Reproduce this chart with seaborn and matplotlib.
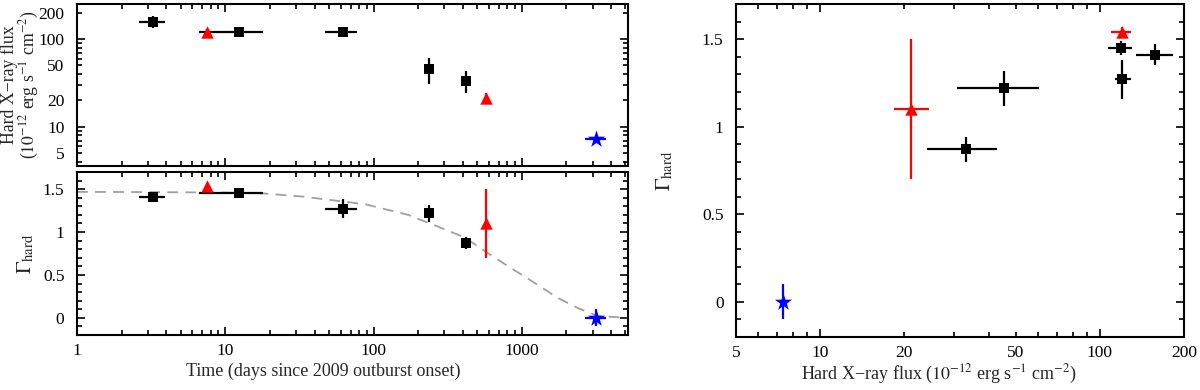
import matplotlib
matplotlib.use("Agg")
import numpy as np
import pandas as pd
import matplotlib.pyplot as plt
import seaborn as sns
from matplotlib.ticker import FixedLocator, FixedFormatter, NullFormatter

sns.set_theme(style="ticks")
plt.rcParams['font.family'] = ['Liberation Serif', 'DejaVu Serif']
plt.rcParams['mathtext.fontset'] = 'stix'
plt.rcParams['axes.unicode_minus'] = True

# black squares
sq_time = [3.28, 12.3, 62, 238, 420]
sq_time_lo = [2.61, 6.7, 46.9, 238, 420]
sq_time_hi = [3.95, 18.1, 77.3, 238, 420]
sq_flux = [158, 119, 120.5, 45.5, 33.2]
sq_flux_lo = [135, 107, 113, 30.8, 24.1]
sq_flux_hi = [182, 130, 129, 60.4, 42.8]
sq_gamma = [1.41, 1.45, 1.27, 1.22, 0.87]
sq_gamma_err = [0.06, 0.04, 0.11, 0.10, 0.07]

# red triangles
tri_time = [7.5, 569]
tri_flux = [120, 21.2]
tri_flux_lo = [110, 18.3]
tri_flux_hi = [129, 24.4]
tri_gamma = [1.54, 1.10]
tri_gamma_err = [0.03, 0.40]

# blue star
star_time = [3170]
star_time_lo = [2650]
star_time_hi = [3700]
star_flux = [7.35]
star_flux_lo = [7.1]
star_flux_hi = [7.6]
star_gamma = [0.0]
star_gamma_err = [0.10]

# dashed model curve
curve_time = [1, 3, 10, 18, 33, 88, 172, 303, 414, 564, 809, 1222, 1754, 2390, 3260, 5200]
curve_gamma = [1.468, 1.466, 1.46, 1.45, 1.414, 1.324, 1.199, 1.031, 0.934, 0.777,
               0.601, 0.406, 0.231, 0.114, 0.02, 0.0]

W, H = 1200, 390
fig = plt.figure(figsize=(12, 3.9), dpi=100)


def px_axes(x0, y0, x1, y1):
    return fig.add_axes([x0 / W, 1 - y1 / H, (x1 - x0) / W, (y1 - y0) / H])


ax_f = px_axes(77, 4, 628, 166)
ax_g = px_axes(77, 172, 628, 335)
ax_r = px_axes(736, 4, 1184, 337)


def errs(v, lo, hi):
    v = np.array(v, float)
    return [v - np.array(lo, float), np.array(hi, float) - v]


def draw(ax, x, y, xerr, yerr, color, marker, size):
    ax.errorbar(x, y, xerr=xerr, yerr=yerr, fmt='none', ecolor=color,
                elinewidth=1.6, capsize=0, zorder=2)
    sns.scatterplot(x=x, y=y, marker=marker, s=size, color=color,
                    linewidth=0, ax=ax, zorder=3, legend=False)


sq_g_err = [sq_gamma_err, sq_gamma_err]
tri_g_err = [tri_gamma_err, tri_gamma_err]
star_g_err = [star_gamma_err, star_gamma_err]

# top-left: flux vs time
draw(ax_f, sq_time, sq_flux, errs(sq_time, sq_time_lo, sq_time_hi),
     errs(sq_flux, sq_flux_lo, sq_flux_hi), 'black', 's', 45)
draw(ax_f, tri_time, tri_flux, None, errs(tri_flux, tri_flux_lo, tri_flux_hi), '#ff0000', '^', 80)
draw(ax_f, star_time, star_flux, errs(star_time, star_time_lo, star_time_hi),
     None, '#0000ff', '*', 170)

# bottom-left: gamma vs time
sns.lineplot(x=curve_time, y=curve_gamma, ax=ax_g, color='#a0a0a0', lw=1.3,
             dashes=False, zorder=1)
ax_g.lines[-1].set_dashes((6, 4))
draw(ax_g, sq_time, sq_gamma, errs(sq_time, sq_time_lo, sq_time_hi), sq_g_err, 'black', 's', 45)
draw(ax_g, tri_time, tri_gamma, None, tri_g_err, '#ff0000', '^', 80)
draw(ax_g, star_time, star_gamma, errs(star_time, star_time_lo, star_time_hi),
     star_g_err, '#0000ff', '*', 170)

# right: gamma vs flux
draw(ax_r, sq_flux, sq_gamma, errs(sq_flux, sq_flux_lo, sq_flux_hi), sq_g_err, 'black', 's', 45)
draw(ax_r, tri_flux, tri_gamma, errs(tri_flux, tri_flux_lo, tri_flux_hi), tri_g_err, '#ff0000', '^', 80)
draw(ax_r, star_flux, star_gamma, None, star_g_err, '#0000ff', '*', 170)

for ax in (ax_f, ax_g, ax_r):
    for s in ax.spines.values():
        s.set_linewidth(1.5)
        s.set_color('black')
    ax.tick_params(which='both', direction='in', top=True, right=True,
                   color='black', width=1.2, labelsize=12.5, labelcolor='black')
    ax.tick_params(which='major', length=6)
    ax.tick_params(which='minor', length=3.5)
    ax.tick_params(axis='x', which='both', pad=6)
    ax.tick_params(axis='y', which='both', pad=9)
    ax.grid(False)
    ax.set_xlabel('')
    ax.set_ylabel('')

# time axes
for ax in (ax_f, ax_g):
    ax.set_xscale('log')
    ax.set_xlim(1, 5200)
    ax.xaxis.set_major_locator(FixedLocator([1, 10, 100, 1000]))
    ax.xaxis.set_minor_locator(FixedLocator(
        [m * d for d in (1, 10, 100, 1000) for m in range(2, 10)]))
    ax.xaxis.set_minor_formatter(NullFormatter())
ax_f.xaxis.set_major_formatter(NullFormatter())
ax_g.xaxis.set_major_formatter(FixedFormatter(['1', '10', '100', '1000']))

# flux axis (top-left)
ax_f.set_yscale('log')
ax_f.set_ylim(3.6, 250)
ax_f.yaxis.set_major_locator(FixedLocator([10, 100]))
ax_f.yaxis.set_major_formatter(FixedFormatter(['10', '100']))
f_minor = [4, 5, 6, 7, 8, 9, 20, 30, 40, 50, 60, 70, 80, 90, 200]
ax_f.yaxis.set_minor_locator(FixedLocator(f_minor))
ax_f.yaxis.set_minor_formatter(FixedFormatter(
    [str(v) if v in (5, 20, 50, 200) else '' for v in f_minor]))

# gamma axes
for ax in (ax_g, ax_r):
    ax.set_ylim(-0.2, 1.7)
    ax.yaxis.set_major_locator(FixedLocator([0, 0.5, 1, 1.5]))
    ax.yaxis.set_major_formatter(FixedFormatter(['0', '0.5', '1', '1.5']))
    ax.yaxis.set_minor_locator(FixedLocator(np.round(np.arange(-0.1, 1.7, 0.1), 1)))

# flux axis (right)
ax_r.set_xscale('log')
ax_r.set_xlim(5, 200)
ax_r.xaxis.set_major_locator(FixedLocator([10, 100]))
ax_r.xaxis.set_major_formatter(FixedFormatter(['10', '100']))
r_minor = [5, 6, 7, 8, 9, 20, 30, 40, 50, 60, 70, 80, 90, 200]
ax_r.xaxis.set_minor_locator(FixedLocator(r_minor))
ax_r.xaxis.set_minor_formatter(FixedFormatter(
    [str(v) if v in (5, 20, 50, 200) else '' for v in r_minor]))

# labels
ax_f.set_ylabel('Hard X\u2212ray flux\n($10^{-12}$ erg s$^{-1}$ cm$^{-2}$)', fontsize=12.8,
                linespacing=0.95)
ax_f.yaxis.set_label_coords(-0.066, 0.5)
ax_g.set_ylabel(r'$\Gamma_{\rm hard}$', fontsize=15)
ax_g.yaxis.set_label_coords(-0.074, 0.5)
ax_g.set_xlabel('Time (days since 2009 outburst onset)', fontsize=13)
ax_g.xaxis.set_label_coords(0.447, -0.17)
ax_r.set_ylabel(r'$\Gamma_{\rm hard}$', fontsize=15)
ax_r.yaxis.set_label_coords(-0.136, 0.5)
ax_r.set_xlabel('Hard X\u2212ray flux ($10^{-12}$ erg s$^{-1}$ cm$^{-2}$)', fontsize=13)
ax_r.xaxis.set_label_coords(0.453, -0.078)

fig.savefig('out.png', dpi=100)
